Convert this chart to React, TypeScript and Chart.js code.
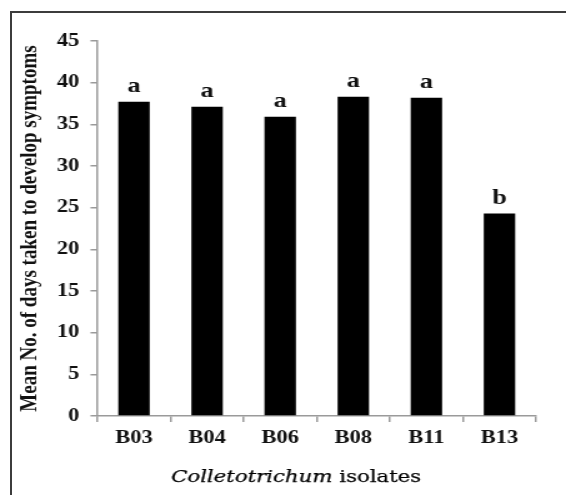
import React, { useEffect, useRef } from "react";
import { Chart, registerables } from "chart.js";

Chart.register(...registerables);

// Isolates and the mean number of days each took to develop symptoms
const isolates = ["B03", "B04", "B06", "B08", "B11", "B13"];
const meanDays = [37.7, 37.1, 35.9, 38.3, 38.2, 24.3];
// Mean-separation letters shown above each bar
const groupLetters = ["a", "a", "a", "a", "a", "b"];

const yMin = 0;
const yMax = 45;
const yStep = 5;

const yAxisTitle = "Mean No. of days taken to develop symptoms";
const xTitleGenus = "Colletotrichum";
const xTitleRest = " isolates";

// Page size and the narrower drawing surface that is widened with CSS
const PAGE_W = 566;
const PAGE_H = 495;
const CANVAS_W = 453;
const STRETCH = PAGE_W / CANVAS_W;

const SERIF = "'Liberation Serif', 'Times New Roman', serif";
const TITLE_SERIF = "'DejaVu Serif', serif";
const AXIS_GREY = "#9a9a9a";
const INK = "#111";

const letterPlugin = {
  id: "groupLetters",
  afterDatasetsDraw(chart: any) {
    const meta = chart.getDatasetMeta(0);
    const ctx = chart.ctx;
    ctx.save();
    ctx.font = `bold 21px ${SERIF}`;
    ctx.fillStyle = INK;
    ctx.textAlign = "center";
    ctx.textBaseline = "alphabetic";
    meta.data.forEach((bar: any, i: number) => {
      ctx.fillText(groupLetters[i], bar.x, bar.y - 10);
    });
    ctx.restore();
  },
};

// Axis title with the genus name in italics
const xTitlePlugin = {
  id: "xTitleMixed",
  afterDraw(chart: any) {
    const ctx = chart.ctx;
    const italic = `italic 17px ${TITLE_SERIF}`;
    const plain = `17px ${TITLE_SERIF}`;
    ctx.save();
    ctx.font = italic;
    const w1 = ctx.measureText(xTitleGenus).width;
    ctx.font = plain;
    const w2 = ctx.measureText(xTitleRest).width;
    const cx = 237;
    const baseline = 482;
    const x0 = cx - (w1 + w2) / 2;
    ctx.fillStyle = "#000";
    ctx.strokeStyle = "#000";
    ctx.lineWidth = 0.25;
    ctx.textAlign = "left";
    ctx.textBaseline = "alphabetic";
    ctx.font = italic;
    ctx.fillText(xTitleGenus, x0, baseline);
    ctx.strokeText(xTitleGenus, x0, baseline);
    ctx.font = plain;
    ctx.fillText(xTitleRest, x0 + w1, baseline);
    ctx.strokeText(xTitleRest, x0 + w1, baseline);
    ctx.restore();
  },
};

export default function App() {
  const canvasRef = useRef<HTMLCanvasElement | null>(null);

  useEffect(() => {
    const canvas = canvasRef.current;
    if (!canvas) return;
    const chart = new Chart(canvas, {
      type: "bar",
      data: {
        labels: isolates,
        datasets: [
          {
            data: meanDays,
            backgroundColor: "#000",
            borderColor: "#333",
            borderWidth: 0,
            barPercentage: 0.43,
            categoryPercentage: 1,
          },
        ],
      },
      options: {
        responsive: false,
        animation: false,
        devicePixelRatio: 1,
        layout: { padding: { top: 41, right: 24, bottom: 0, left: 0 } },
        plugins: {
          legend: { display: false },
          tooltip: { enabled: false },
        },
        scales: {
          x: {
            grid: {
              display: true,
              offset: true,
              drawOnChartArea: false,
              drawTicks: true,
              tickLength: 6,
              color: AXIS_GREY,
              lineWidth: 1.5,
            },
            border: { display: true, color: AXIS_GREY, width: 1.5 },
            ticks: {
              color: INK,
              padding: 6,
              font: { family: SERIF, size: 18, weight: "bold" },
            },
            afterFit: (scale: any) => {
              scale.height = 79;
            },
          },
          y: {
            min: yMin,
            max: yMax,
            grid: {
              display: true,
              drawOnChartArea: false,
              drawTicks: true,
              tickLength: 5.6,
              color: AXIS_GREY,
              lineWidth: 1.5,
            },
            border: { display: true, color: AXIS_GREY, width: 1.5 },
            ticks: {
              stepSize: yStep,
              color: INK,
              padding: 9,
              font: { family: SERIF, size: 18, weight: "bold" },
            },
            title: {
              display: true,
              text: yAxisTitle,
              color: INK,
              font: { family: SERIF, size: 19, weight: "bold" },
              padding: { top: 13, bottom: 0 },
            },
            afterFit: (scale: any) => {
              scale.width = 78;
            },
          },
        },
      },
      plugins: [letterPlugin, xTitlePlugin],
    });
    return () => chart.destroy();
  }, []);

  return (
    <div
      style={{
        position: "fixed",
        left: 0,
        top: 0,
        width: PAGE_W,
        height: PAGE_H,
        overflow: "hidden",
        background: "#fff",
      }}
    >
      <canvas
        ref={canvasRef}
        width={CANVAS_W}
        height={PAGE_H}
        style={{
          position: "absolute",
          left: 0,
          top: 0,
          width: CANVAS_W,
          height: PAGE_H,
          transform: `scaleX(${STRETCH})`,
          transformOrigin: "0 0",
        }}
      />
      <div
        style={{
          position: "absolute",
          left: 10,
          top: 11,
          width: PAGE_W + 20,
          height: PAGE_H + 20,
          borderLeft: "2px solid #3c3c3c",
          borderTop: "2px solid #3c3c3c",
          pointerEvents: "none",
        }}
      />
    </div>
  );
}
